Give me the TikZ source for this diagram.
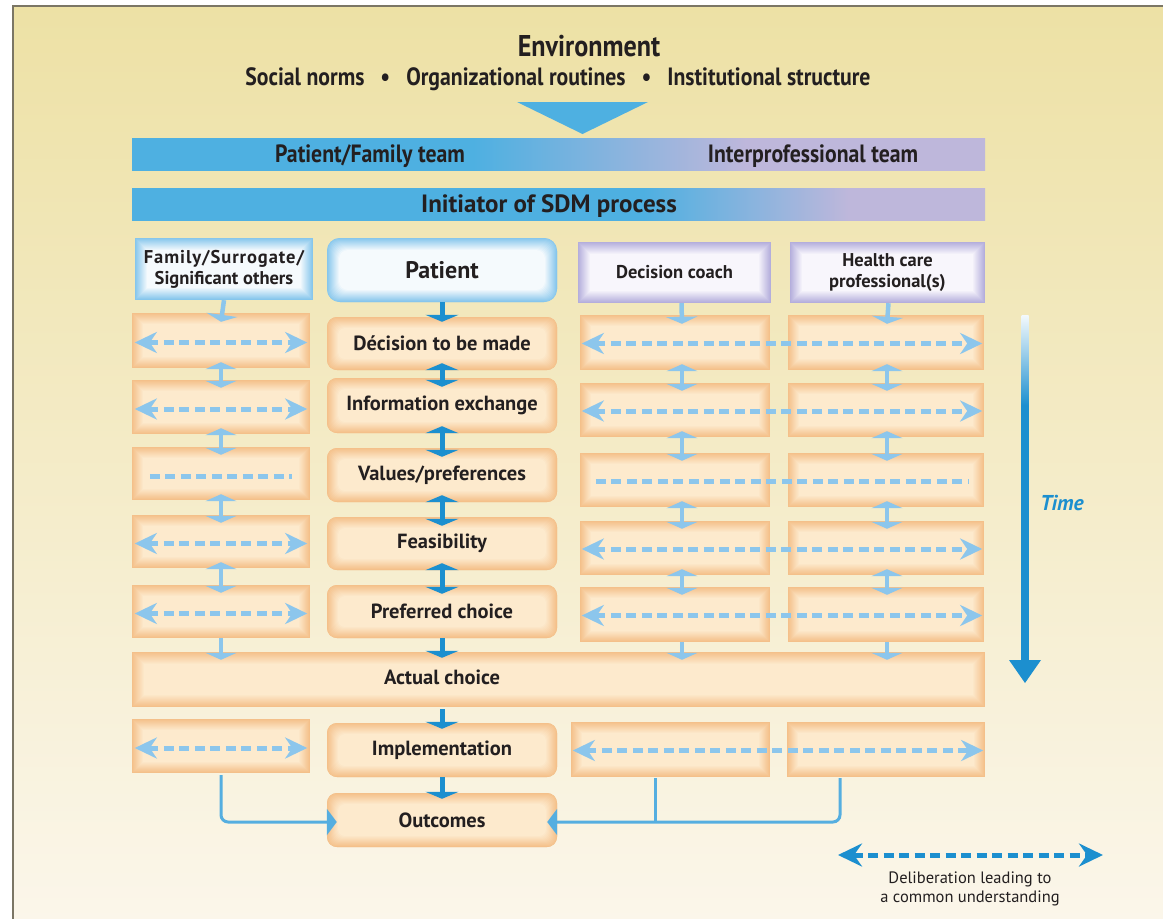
\documentclass[tikz,border=0pt]{standalone}
\usepackage{fontspec}
\setmainfont{PT Sans}
\newfontfamily\cond[FakeStretch=0.87]{PT Sans}
\usetikzlibrary{arrows.meta}
\definecolor{bgtop}{HTML}{EDE1A5}
\definecolor{bgmid}{HTML}{F3EAC2}
\definecolor{bgbot}{HTML}{FBF6EA}
\definecolor{framec}{HTML}{7B7665}
\definecolor{sdmblue}{HTML}{4EB0E1}
\definecolor{sdmlav}{HTML}{BEB7DB}
\definecolor{oedge}{HTML}{F4C08A}
\definecolor{ocent}{HTML}{FDEACD}
\definecolor{bedge}{HTML}{86C6EC}
\definecolor{bcent}{HTML}{F5FAFD}
\definecolor{ledge}{HTML}{B4AEDC}
\definecolor{lcent}{HTML}{F8F6FC}
\definecolor{darrow}{HTML}{1C8FCF}
\definecolor{larrow}{HTML}{8CC6EC}
\definecolor{fbline}{HTML}{55AEE0}
\definecolor{txt}{HTML}{231F20}
\pgfdeclarehorizontalshading{teambar}{100bp}{color(0bp)=(sdmblue); color(45bp)=(sdmblue); color(61bp)=(sdmlav); color(100bp)=(sdmlav)}
\pgfdeclarehorizontalshading{initbar}{100bp}{color(0bp)=(sdmblue); color(55bp)=(sdmblue); color(67bp)=(sdmlav); color(100bp)=(sdmlav)}
\pgfdeclareverticalshading{timegrad}{100bp}{color(0bp)=(darrow); color(62bp)=(darrow); color(70bp)=(darrow!40!white); color(75bp)=(darrow!5!white); color(100bp)=(white)}
\tikzset{
  glow/.style n args={4}{fill=#1, path picture={
    \foreach \k in {0,...,#4}{
      \pgfmathsetmacro\pc{100*\k/#4}
      \fill[#2!\pc!#1, rounded corners=#3]
        ([xshift=\k*1pt,yshift=-\k*1pt]path picture bounding box.north west) rectangle
        ([xshift=-\k*1pt,yshift=\k*1pt]path picture bounding box.south east);
    }}},
  base/.style={rectangle, inner sep=0pt, text=txt, align=center},
  sidebox/.style={base, glow={oedge}{ocent}{0pt}{11}},
  midbox/.style={base, rounded corners=10pt, glow={oedge}{ocent}{7pt}{11}, font=\bfseries\fontsize{20.5}{24}\selectfont},
  bluebox/.style={base, glow={bedge}{bcent}{0pt}{12}},
  lavbox/.style={base, glow={ledge}{lcent}{0pt}{12}, font=\bfseries\fontsize{18.5}{21}\selectfont},
  bartext/.style={text=txt, inner sep=0pt, font=\cond\bfseries\fontsize{25}{28}\selectfont},
  sarr/.style={draw=larrow, line width=4.5pt},
  carr/.style={draw=darrow, line width=5pt},
  sdbl/.style={sarr, {Triangle[length=7pt,width=31pt]}-{Triangle[length=7pt,width=31pt]}},
  sdown/.style={sarr, -{Triangle[length=7pt,width=31pt]}},
  cdbl/.style={carr, {Triangle[length=7pt,width=33pt]}-{Triangle[length=7pt,width=33pt]}},
  cdown/.style={carr, -{Triangle[length=7pt,width=33pt]}},
  delibline/.style={draw=larrow, line width=5pt, dash pattern=on 10pt off 5.5pt},
  delib/.style={delibline, {Stealth[length=22pt,width=21pt,inset=7pt]}-{Stealth[length=22pt,width=21pt,inset=7pt]}},
  legarrow/.style={draw=darrow, line width=5pt, dash pattern=on 10pt off 5.5pt, {Stealth[length=24pt,width=23pt,inset=8pt]}-{Stealth[length=24pt,width=23pt,inset=8pt]}},
  fb/.style={draw=fbline, line width=3pt, rounded corners=7pt},
}
\begin{document}
\begin{tikzpicture}[x=1pt,y=-1pt]
\useasboundingbox (0,0) rectangle (1163,919);
\fill[white] (0,0) rectangle (1163,919);
\shade[top color=bgtop, middle color=bgmid, bottom color=bgbot] (13,6) rectangle (1163,919);
\draw[framec, line width=2pt] (13,919) -- (13,6) -- (1163,6);

% header
\node[text=txt, font=\cond\bfseries\fontsize{30}{34}\selectfont] (env) at (589,46) {Environment};
\node[text=txt, font=\cond\bfseries\fontsize{25}{28}\selectfont] (sub) at (558,79) {Social norms\hspace{16pt}•\hspace{16pt}Organizational routines\hspace{16pt}•\hspace{16pt}Institutional structure};
\fill[sdmblue] (517,102) -- (648,102) -- (582.5,134) -- cycle;

\node[shade, shading=teambar, minimum width=853pt, minimum height=32pt, inner sep=0pt] (team) at (558.5,154) {};
\node[bartext] (pft) at (370,156) {Patient/Family team};
\node[bartext] (ipt) at (813,156) {Interprofessional team};
\node[shade, shading=initbar, minimum width=853pt, minimum height=32pt, inner sep=0pt] (init) at (558.5,204) {};
\node[text=txt, inner sep=0pt, font=\bfseries\fontsize{25}{28}\selectfont] (inittxt) at (549,206) {Initiator of SDM process};

% top boxes
\node[bluebox, minimum width=178pt, minimum height=62pt, font=\bfseries\fontsize{18.5}{21}\selectfont] (fam) at (224,269) {\addfontfeature{LetterSpace=5}Family/Surrogate/\\Significant others};
\node[bluebox, rounded corners=13pt, glow={bedge}{bcent}{9pt}{12}, minimum width=230pt, minimum height=64pt, font=\bfseries\fontsize{24}{28}\selectfont] (pat) at (442,270) {Patient};
\node[lavbox, minimum width=193pt, minimum height=61pt] (coach) at (674.5,272.5) {Decision coach};
\node[lavbox, minimum width=195pt, minimum height=61pt] (hcp) at (887.5,272.5) {Health care\\professional(s)};

% left column
\node[sidebox, minimum width=178pt, minimum height=55pt] (l1) at (221,340.5) {};
\node[sidebox, minimum width=178pt, minimum height=54pt] (l2) at (221,407) {};
\node[sidebox, minimum width=178pt, minimum height=53pt] (l3) at (221,473.5) {};
\node[sidebox, minimum width=178pt, minimum height=53pt] (l4) at (221,541.5) {};
\node[sidebox, minimum width=178pt, minimum height=53pt] (l5) at (221,611.5) {};
\node[sidebox, minimum width=178pt, minimum height=54pt] (li) at (221,746) {};

% centre column
\node[midbox, minimum width=230pt, minimum height=53pt] (d1) at (442,343.5) {Décision to be made};
\node[midbox, minimum width=230pt, minimum height=55pt] (d2) at (442,405.5) {Information exchange};
\node[midbox, minimum width=230pt, minimum height=54pt] (d3) at (442,475) {Values/preferences};
\node[midbox, minimum width=230pt, minimum height=53pt] (d4) at (442,543.5) {Feasibility};
\node[midbox, minimum width=230pt, minimum height=53pt] (d5) at (442,611.5) {Preferred choice};

% right columns
\node[sidebox, minimum width=190pt, minimum height=55pt] (k1) at (675,342.5) {};
\node[sidebox, minimum width=190pt, minimum height=54pt] (k2) at (675,410) {};
\node[sidebox, minimum width=190pt, minimum height=54pt] (k3) at (675,480) {};
\node[sidebox, minimum width=190pt, minimum height=54pt] (k4) at (675,548) {};
\node[sidebox, minimum width=190pt, minimum height=55pt] (k5) at (675,614.5) {};
\node[sidebox, minimum width=196pt, minimum height=55pt] (h1) at (886,342.5) {};
\node[sidebox, minimum width=196pt, minimum height=54pt] (h2) at (886,410) {};
\node[sidebox, minimum width=196pt, minimum height=54pt] (h3) at (886,480) {};
\node[sidebox, minimum width=196pt, minimum height=54pt] (h4) at (886,548) {};
\node[sidebox, minimum width=196pt, minimum height=55pt] (h5) at (886,614.5) {};

% actual choice and below
\node[sidebox, glow={oedge}{ocent}{0pt}{12}, minimum width=853pt, minimum height=55pt] (act) at (558.5,679.5) {};
\node[text=txt, inner sep=0pt, font=\bfseries\fontsize{20.5}{24}\selectfont] (acttxt) at (442,677) {Actual choice};
\node[midbox, minimum width=230pt, minimum height=54pt] (imp) at (442,750) {Implementation};
\node[sidebox, minimum width=199pt, minimum height=55pt] (ki) at (670.5,749.5) {};
\node[sidebox, minimum width=198pt, minimum height=55pt] (hi) at (886,749.5) {};
\node[midbox, minimum width=230pt, minimum height=54pt] (out) at (442,820) {Outcomes};

% vertical arrows, left column
\draw[sdown] (fam.south) -- ([yshift=-9pt]l1.north);
\foreach \a/\b in {l1/l2,l2/l3,l3/l4,l4/l5}
  \draw[sdbl] ([yshift=6pt]\a.south) -- ([yshift=-8pt]\b.north);
\draw[sdown] (l5.south) -- ([yshift=-8pt]act.north -| l5.south);

% centre column
\draw[cdown] (pat.south) -- ([yshift=-5pt]d1.north);
\foreach \a/\b in {d1/d2,d2/d3,d3/d4,d4/d5}
  \draw[cdbl] ([yshift=7pt]\a.south) -- ([yshift=-9pt]\b.north);
\draw[cdown] (d5.south) -- ([yshift=-6pt]act.north -| d5.south);
\draw[cdown] ([yshift=-2pt]act.south -| imp.north) -- ([yshift=-6pt]imp.north);
\draw[cdown] (imp.south) -- ([yshift=-6pt]out.north);

% coach column
\draw[sdown] ([xshift=7pt]coach.south) -- ([xshift=7pt,yshift=-9pt]k1.north);
\foreach \a/\b in {k1/k2,k2/k3,k3/k4,k4/k5}
  \draw[sdbl] ([xshift=7pt,yshift=6pt]\a.south) -- ([xshift=7pt,yshift=-8pt]\b.north);
\draw[sdown] ([xshift=7pt]k5.south) -- ([xshift=7pt,yshift=-8pt]act.north -| k5.south);

% HCP column
\draw[sdown] ([xshift=1pt]hcp.south) -- ([xshift=1pt,yshift=-9pt]h1.north);
\foreach \a/\b in {h1/h2,h2/h3,h3/h4,h4/h5}
  \draw[sdbl] ([xshift=1pt,yshift=6pt]\a.south) -- ([xshift=1pt,yshift=-8pt]\b.north);
\draw[sdown] ([xshift=1pt]h5.south) -- ([xshift=1pt,yshift=-8pt]act.north -| h5.south);

% deliberation arrows
\foreach \n in {l1,l2,l4,l5,li}
  \draw[delib] ([xshift=3pt,yshift=-2pt]\n.west) -- ([xshift=-3pt,yshift=-2pt]\n.east);
\draw[delibline] ([xshift=18pt,yshift=-3pt]l3.west) -- ([xshift=-18pt,yshift=-3pt]l3.east);
\foreach \a/\b in {k1/h1,k2/h2,k4/h4,k5/h5,ki/hi}
  \draw[delib] ([xshift=2pt,yshift=-1pt]\a.west) -- ([xshift=-2pt,yshift=-1pt]\b.east);
\draw[delibline] ([xshift=16pt,yshift=-1pt]k3.west) -- ([xshift=-16pt,yshift=-1pt]h3.east);

% feedback to outcomes
\draw[fb, -{Triangle[length=10pt,width=26pt]}] ([yshift=-2pt]li.south) |- ([xshift=10pt,yshift=-2pt]out.west);
\draw[fb, -{Triangle[length=10pt,width=26pt]}] ([xshift=-46pt,yshift=-1pt]hi.south) |- ([xshift=-10pt,yshift=-2pt]out.east);
\draw[fb] ([xshift=-15.5pt,yshift=-1pt]ki.south) -- ([xshift=-15.5pt,yshift=-2pt]ki.south |- out.east);

% time arrow
\coordinate (t1) at (1025,315);
\coordinate (t2) at (1025,683);
\shade[shading=timegrad] ([xshift=-3.5pt]t1) rectangle ([xshift=3.5pt,yshift=21pt]t2);
\fill[darrow] ([xshift=-16pt,yshift=23pt]t2) -- ([xshift=16pt,yshift=23pt]t2) -- (t2) -- cycle;
\node[text=darrow, inner sep=0pt, font=\bfseries\itshape\fontsize{21.5}{24}\selectfont] (time) at (1062,503) {Time};

% legend
\coordinate (lg1) at (838,855);
\coordinate (lg2) at (1103,855);
\draw[legarrow] (lg1) -- (lg2);
\node[text=txt, inner sep=0pt, align=center, font=\fontsize{16.5}{19}\selectfont] (legtxt) at (970,889) {Deliberation leading to\\a common understanding};
\end{tikzpicture}
\end{document}
